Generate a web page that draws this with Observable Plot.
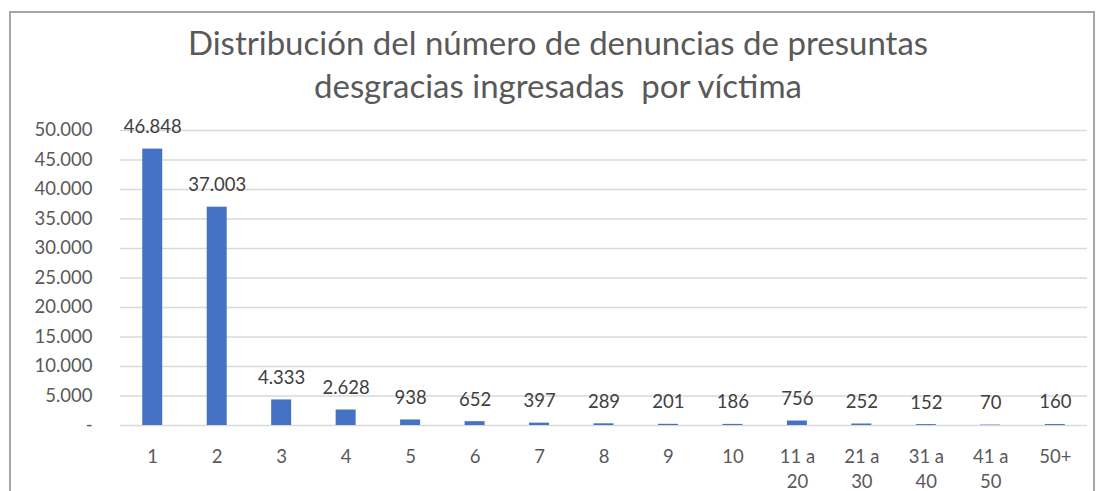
<!DOCTYPE html>
<html>
<head>
<meta charset="utf-8">
<script src="https://cdn.jsdelivr.net/npm/d3@7"></script>
<script src="https://cdn.jsdelivr.net/npm/@observablehq/plot@0.6"></script>
<style>
  html, body { margin: 0; padding: 0; background: #fff; overflow: hidden; }
  #wrap { position: relative; width: 1101px; height: 491px; overflow: hidden; }
  #frame { position: absolute; left: 9px; top: 11px; width: 1086px; height: 520px; border: 2px solid #a6a6a6; box-sizing: border-box; }
  #title { position: absolute; left: 0; top: 21px; width: 1116px; text-align: center;
           font-family: Lato, "Open Sans", sans-serif; font-size: 33px; line-height: 43px; color: #595959; }
  #chart { position: absolute; left: 0; top: 0; }
</style>
</head>
<body>
<div id="wrap">
  <div id="frame"></div>
  <div id="title">Distribución del número de denuncias de presuntas<br>desgracias ingresadas&nbsp; por víctima</div>
  <div id="chart"></div>
</div>
<script>
const categories = ["1","2","3","4","5","6","7","8","9","10","11 a 20","21 a 30","31 a 40","41 a 50","50+"];
const xTickLabels = ["1","2","3","4","5","6","7","8","9","10","11 a\n20","21 a\n30","31 a\n40","41 a\n50","50+"];
const values = [46848, 37003, 4333, 2628, 938, 652, 397, 289, 201, 186, 756, 252, 152, 70, 160];
const yTicks = [0, 5000, 10000, 15000, 20000, 25000, 30000, 35000, 40000, 45000, 50000];

const data = categories.map((c, i) => ({cat: c, value: values[i]}));
const es = d3.formatLocale({decimal: ",", thousands: ".", grouping: [3], currency: ["", "€"]});
const fmt = es.format(",");
const font = 'Lato, "Open Sans", sans-serif';

const chart = Plot.plot({
  width: 1101,
  height: 491,
  marginTop: 130,
  marginBottom: 66,
  marginLeft: 120,
  marginRight: 14,
  style: {fontFamily: font, background: "transparent", color: "#595959", overflow: "visible"},
  x: {domain: categories, paddingInner: 0.69, paddingOuter: 0.345, round: false, label: null},
  y: {domain: [0, 50000], label: null},
  marks: [
    Plot.gridY(yTicks, {stroke: "#d9d9d9", strokeOpacity: 1, strokeWidth: 1.5}),
    Plot.axisY({ticks: yTicks, tickSize: 0, tickPadding: 28, fontSize: 18.5, label: null,
      tickFormat: d => d === 0 ? "-" : fmt(d)}),
    Plot.barY(data, {x: "cat", y: "value", fill: "#4472C4"}),
    Plot.text(data, {x: "cat", y: "value", text: d => fmt(d.value), dy: -22, fontSize: 18.5, fill: "#404040"}),
    Plot.axisX({tickSize: 0, tickPadding: 20, fontSize: 18.5, lineHeight: 1.35, lineAnchor: "top", label: null,
      tickFormat: (d, i) => xTickLabels[categories.indexOf(d)]})
  ]
});
document.getElementById("chart").appendChild(chart);
</script>
</body>
</html>
